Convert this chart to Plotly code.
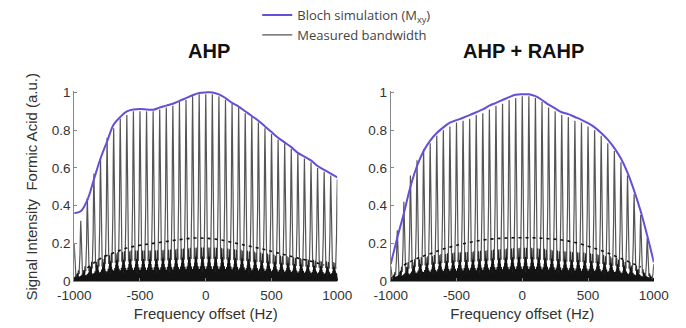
import plotly.graph_objects as go

# Frequency offsets (Hz) at which each measured spectrum is centred
offsets = [-1000, -950, -900, -850, -800, -750, -700, -650, -600, -550,
           -500, -450, -400, -350, -300, -250, -200, -150, -100, -50,
           0, 50, 100, 150, 200, 250, 300, 350, 400, 450,
           500, 550, 600, 650, 700, 750, 800, 850, 900, 950, 1000]

# AHP: Bloch simulation of M_xy and measured peak heights
ahp_bloch = [0.36, 0.37, 0.43, 0.54, 0.65, 0.74, 0.83, 0.87, 0.90, 0.91,
             0.912, 0.91, 0.908, 0.92, 0.93, 0.94, 0.955, 0.97, 0.985, 0.997,
             1.0, 1.0, 0.99, 0.97, 0.945, 0.925, 0.90, 0.875, 0.85, 0.82,
             0.79, 0.76, 0.735, 0.71, 0.68, 0.66, 0.64, 0.61, 0.59, 0.57, 0.55]
ahp_measured = [0.20, 0.32, 0.44, 0.57, 0.65, 0.76, 0.81, 0.86, 0.88, 0.90,
                0.90, 0.90, 0.90, 0.91, 0.92, 0.93, 0.95, 0.96, 0.98, 0.99,
                0.99, 0.99, 0.98, 0.96, 0.94, 0.92, 0.89, 0.87, 0.84, 0.81,
                0.78, 0.75, 0.73, 0.70, 0.68, 0.65, 0.63, 0.60, 0.58, 0.56, 0.54]

# AHP + RAHP: Bloch simulation and measured peak heights
rahp_bloch = [0.09, 0.23, 0.36, 0.50, 0.61, 0.69, 0.745, 0.785, 0.815, 0.84,
              0.853, 0.866, 0.88, 0.895, 0.91, 0.93, 0.945, 0.96, 0.975, 0.988,
              0.99, 0.99, 0.98, 0.96, 0.935, 0.915, 0.895, 0.885, 0.87, 0.855,
              0.837, 0.815, 0.785, 0.75, 0.705, 0.65, 0.575, 0.48, 0.37, 0.24, 0.10]
rahp_measured = [0.08, 0.27, 0.42, 0.56, 0.64, 0.70, 0.73, 0.77, 0.80, 0.82,
                 0.84, 0.85, 0.86, 0.88, 0.89, 0.91, 0.93, 0.94, 0.96, 0.97,
                 0.98, 0.98, 0.97, 0.95, 0.92, 0.90, 0.88, 0.87, 0.85, 0.84,
                 0.82, 0.80, 0.77, 0.73, 0.69, 0.63, 0.56, 0.46, 0.35, 0.23, 0.09]

# Secondary (sideband) level traced across the spectra
hump_offsets = [-900, -800, -700, -600, -500, -400, -300, -200, -100, 0,
                100, 200, 300, 400, 500, 600, 700, 800, 900]
ahp_hump = [0.07, 0.12, 0.15, 0.175, 0.19, 0.20, 0.21, 0.22, 0.228, 0.227,
            0.22, 0.205, 0.19, 0.175, 0.158, 0.14, 0.122, 0.105, 0.085]
rahp_hump = [0.085, 0.12, 0.145, 0.17, 0.19, 0.205, 0.218, 0.225, 0.229, 0.23,
             0.229, 0.225, 0.218, 0.205, 0.185, 0.162, 0.135, 0.105, 0.075]

x_ticks = [-1000, -500, 0, 500, 1000]
x_ticktext = ["-1000", "-500", "0", "500", "1000"]
y_ticks = [0, 0.2, 0.4, 0.6, 0.8, 1]
y_ticktext = ["0", "0.2", "0.4", "0.6", "0.8", "1"]

# Line-shape template of one spectrum: (offset from centre in Hz, fraction of peak)
PEAK_HALF = [(3, 0.8), (6, 0.45), (9, 0.25), (13, 0.12)]
# Truncation ringing on either side of the peak, continuing from the last point above
RING_HALF = [(13, 0.12), (17, 0.18), (21, 0.07), (25, 0.13), (29, 0.04),
             (33, 0.10), (37, 0.03), (41, 0.08), (45, 0.01), (50, 0.065),
             (55, 0.01), (60, 0.055), (65, 0.0), (70, 0.05), (76, 0.0),
             (82, 0.045), (88, 0.005), (94, 0.04), (100, 0.0), (108, 0.04),
             (116, 0.0), (124, 0.035), (132, 0.005), (140, 0.035), (150, 0.0),
             (160, 0.03), (170, 0.0), (180, 0.03), (192, 0.0), (204, 0.025),
             (216, 0.0), (230, 0.025), (245, 0.0), (260, 0.02), (280, 0.0),
             (300, 0.015), (320, 0.0)]
PEAK = [(-d, f) for d, f in reversed(PEAK_HALF)] + [(0, 1.0)] + PEAK_HALF

PURPLE = "#6450d6"
SPIKE = "#555555"
RING = "#141414"
FONT = "Liberation Sans, Arial, sans-serif"


def peaks(centres, heights):
    xs, ys = [], []
    for c, h in zip(centres, heights):
        for d, f in PEAK:
            xs.append(c + d)
            ys.append(h * f)
        xs.append(None)
        ys.append(None)
    return xs, ys


def ringing(centres, heights):
    xs, ys = [], []
    for c, h in zip(centres, heights):
        for sign in (-1, 1):
            for d, f in RING_HALF:
                xs.append(c + sign * d)
                ys.append(h * f)
            xs.append(None)
            ys.append(None)
    return xs, ys


fig = go.Figure()

panels = [
    ("x", "y", ahp_bloch, ahp_measured, ahp_hump, True),
    ("x2", "y2", rahp_bloch, rahp_measured, rahp_hump, False),
]
for xa, ya, bloch, meas, hump, show in panels:
    rx, ry = ringing(offsets, meas)
    fig.add_trace(go.Scatter(
        x=rx, y=ry, xaxis=xa, yaxis=ya, mode="lines",
        line=dict(color=RING, width=1.3), showlegend=False, hoverinfo="skip"))
    px, py = peaks(offsets, meas)
    fig.add_trace(go.Scatter(
        x=px, y=py, xaxis=xa, yaxis=ya, mode="lines",
        line=dict(color=SPIKE, width=1.2), name="Measured bandwidth",
        showlegend=show, legendrank=2, hoverinfo="skip"))
    fig.add_trace(go.Scatter(
        x=hump_offsets, y=hump, xaxis=xa, yaxis=ya, mode="lines",
        line=dict(color="#111111", width=1.6, dash="3px,4px", shape="spline"),
        showlegend=False, hoverinfo="skip"))
    fig.add_trace(go.Scatter(
        x=offsets, y=bloch, xaxis=xa, yaxis=ya, mode="lines",
        line=dict(color=PURPLE, width=2, shape="spline"),
        name="Bloch simulation (M<sub>xy</sub>)",
        showlegend=show, legendrank=1))

tick_font = dict(family=FONT, size=13.5, color="#333333")
x_common = dict(range=[-1000, 1000], tickvals=x_ticks, ticktext=x_ticktext,
                ticks="inside", ticklen=3, tickcolor="#888888",
                showline=True, linecolor="#888888", linewidth=1,
                showgrid=False, zeroline=False, tickfont=tick_font,
                ticklabelstandoff=2,
                title=dict(text="Frequency offset (Hz)", standoff=6,
                           font=dict(family=FONT, size=15, color="#333333")))
y_common = dict(range=[0, 1.01], tickvals=y_ticks, ticktext=y_ticktext,
                ticks="inside", ticklen=3, tickcolor="#888888",
                showline=True, linecolor="#888888", linewidth=1,
                showgrid=False, zeroline=False, tickfont=tick_font)

dom_y = [41 / 328, 242 / 328]
fig.update_layout(
    width=686, height=328,
    margin=dict(l=0, r=0, t=0, b=0),
    paper_bgcolor="white", plot_bgcolor="white",
    xaxis=dict(domain=[60 / 686, 336 / 686], anchor="y", **x_common),
    yaxis=dict(domain=dom_y, anchor="x", **y_common),
    xaxis2=dict(domain=[392 / 686, 668 / 686], anchor="y2", **x_common),
    yaxis2=dict(domain=dom_y, anchor="x2", **y_common),
    legend=dict(x=252 / 686, y=1.03, xanchor="left", yanchor="top",
                bgcolor="rgba(0,0,0,0)", borderwidth=0,
                font=dict(family="Open Sans, sans-serif", size=13, color="#444444"),
                tracegroupgap=0),
    annotations=[
        dict(text="<b>AHP</b>", x=201 / 686, y=1 - 44 / 328, xref="paper", yref="paper",
             xanchor="center", yanchor="middle", showarrow=False,
             font=dict(family=FONT, size=20, color="#111111")),
        dict(text="<b>AHP + RAHP</b>", x=531 / 686, y=1 - 44 / 328, xref="paper",
             yref="paper", xanchor="center", yanchor="middle", showarrow=False,
             font=dict(family=FONT, size=20, color="#111111")),
        dict(text="Signal Intensity  Formic Acid (a.u.)", x=15 / 686, y=1 - 187 / 328,
             xref="paper", yref="paper", xanchor="center", yanchor="middle",
             showarrow=False, textangle=-90,
             font=dict(family=FONT, size=15, color="#333333")),
    ],
)

fig.write_html("out.html")
